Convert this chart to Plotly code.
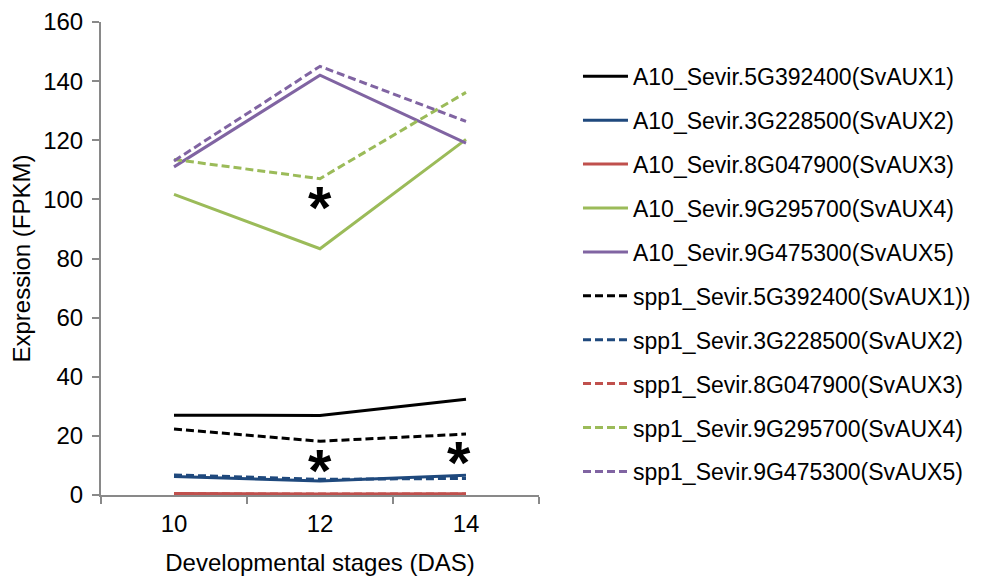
import plotly.graph_objects as go

stages = ["10", "12", "14"]

a10_aux1 = [27.0, 26.9, 32.4]
a10_aux2 = [6.3, 4.7, 6.7]
a10_aux3 = [0.5, 0.3, 0.4]
a10_aux4 = [101.7, 83.3, 120.3]
a10_aux5 = [111.0, 142.0, 119.0]
spp1_aux1 = [22.3, 18.2, 20.6]
spp1_aux2 = [6.8, 5.3, 5.6]
spp1_aux3 = [0.4, 0.3, 0.3]
spp1_aux4 = [113.5, 107.0, 136.2]
spp1_aux5 = [113.0, 145.0, 126.4]

names = [
    "A10_Sevir.5G392400(SvAUX1)",
    "A10_Sevir.3G228500(SvAUX2)",
    "A10_Sevir.8G047900(SvAUX3)",
    "A10_Sevir.9G295700(SvAUX4)",
    "A10_Sevir.9G475300(SvAUX5)",
    "spp1_Sevir.5G392400(SvAUX1))",
    "spp1_Sevir.3G228500(SvAUX2)",
    "spp1_Sevir.8G047900(SvAUX3)",
    "spp1_Sevir.9G295700(SvAUX4)",
    "spp1_Sevir.9G475300(SvAUX5)",
]
series = [a10_aux1, a10_aux2, a10_aux3, a10_aux4, a10_aux5,
          spp1_aux1, spp1_aux2, spp1_aux3, spp1_aux4, spp1_aux5]
colors = ["#000000", "#1F497D", "#C0504D", "#9BBB59", "#8064A2"] * 2
dashes = ["solid"] * 5 + ["8px,4px"] * 5

# significance asterisks: x as category index, y in data units
star_x = [1.0, 1.0, 1.95]
star_y = [100.3, 11.4, 14.1]

FONT = "Liberation Sans, Arial, sans-serif"
AXC = "#898989"

fig = go.Figure()
for i, (nm, vals) in enumerate(zip(names, series)):
    fig.add_trace(go.Scatter(
        x=stages, y=vals, mode="lines", name=nm,
        legendgroup=f"g{i}",
        line=dict(color=colors[i], width=3, dash=dashes[i]),
    ))

for sx, sy in zip(star_x, star_y):
    fig.add_annotation(x=sx, y=sy, xref="x", yref="y", text="<b>*</b>",
                       showarrow=False, yshift=-9,
                       font=dict(size=60, color="#000000", family=FONT))

fig.update_layout(
    width=983, height=579,
    margin=dict(l=93, r=452, t=14, b=92, autoexpand=False),
    plot_bgcolor="white", paper_bgcolor="white",
    font=dict(family=FONT, color="#000000"),
    showlegend=True,
    legend=dict(x=1.089, y=0.9305, xanchor="left", yanchor="top",
                font=dict(size=23), tracegroupgap=11, itemwidth=45,
                bgcolor="rgba(0,0,0,0)"),
    xaxis=dict(type="category", range=[-0.5, 2.5], tickson="boundaries",
               ticks="outside", ticklen=7, tickwidth=2, tickcolor=AXC,
               showline=True, linecolor=AXC, linewidth=2, automargin=False,
               showgrid=False, zeroline=False, ticklabelstandoff=6,
               tickfont=dict(size=24),
               title=dict(text="Developmental stages (DAS)", font=dict(size=24), standoff=18)),
    yaxis=dict(range=[0, 160], dtick=20, ticks="outside", ticklen=7, tickwidth=2,
               tickcolor=AXC, showline=True, linecolor=AXC, linewidth=2,
               showgrid=False, zeroline=False, ticklabelstandoff=4,
               ticklabeloverflow="allow", automargin=False,
               tickfont=dict(size=24),
               title=dict(text="Expression (FPKM)", font=dict(size=24), standoff=8)),
)

fig.write_html("out.html")
